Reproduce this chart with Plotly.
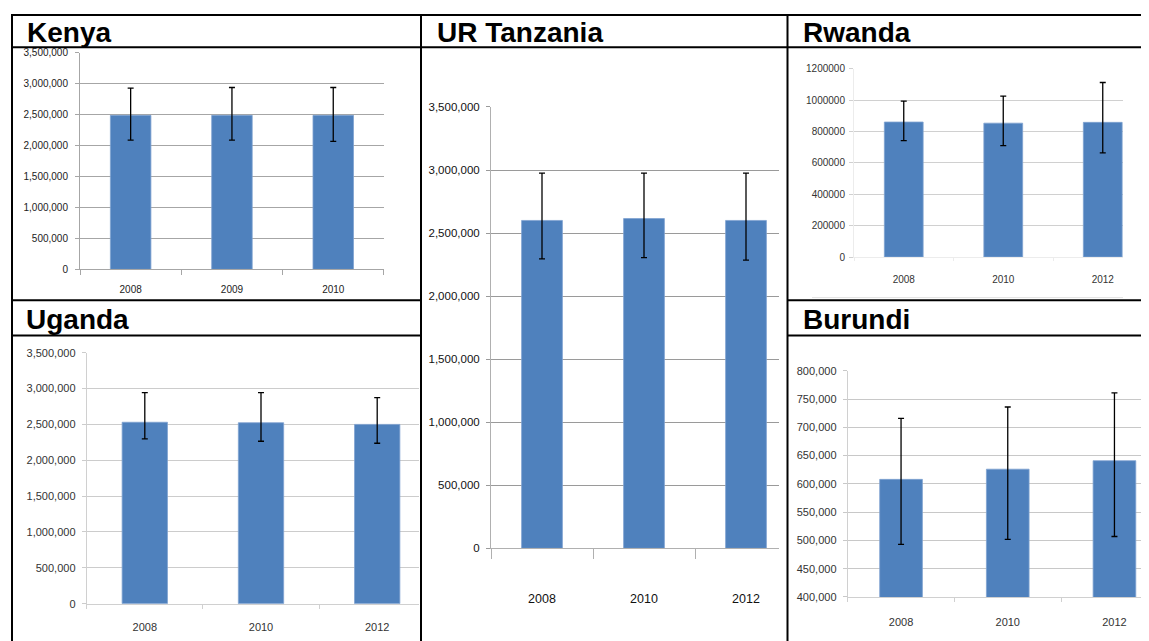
import plotly.graph_objects as go

W, H = 1149, 641

# ---------------- data ----------------
kenya_years = ["2008", "2009", "2010"]
kenya_values = [2490000, 2490000, 2490000]
kenya_upper = [2930000, 2940000, 2940000]
kenya_lower = [2090000, 2090000, 2070000]

tanzania_years = ["2008", "2010", "2012"]
tanzania_values = [2600000, 2615000, 2600000]
tanzania_upper = [2975000, 2975000, 2975000]
tanzania_lower = [2295000, 2305000, 2285000]

rwanda_years = ["2008", "2010", "2012"]
rwanda_values = [860000, 853000, 858000]
rwanda_upper = [993000, 1025000, 1112000]
rwanda_lower = [742000, 710000, 663000]

uganda_years = ["2008", "2010", "2012"]
uganda_values = [2530000, 2523000, 2500000]
uganda_upper = [2944000, 2944000, 2874000]
uganda_lower = [2298000, 2265000, 2237000]

burundi_years = ["2008", "2010", "2012"]
burundi_values = [608000, 626000, 641000]
burundi_upper = [716000, 736000, 761000]
burundi_lower = [493000, 502000, 507000]

titles = ["Kenya", "UR Tanzania", "Rwanda", "Uganda", "Burundi"]

# ------------- screen-pixel -> paper mapping -------------
# the page places the figure at x=8 and stretches it vertically from y=16.4 to y=641
OX, OY, PH = 8.0, 16.4, 624.6


def X(px):
    return (px - OX) / W


def Y(py):
    return 1 - (py - OY) / PH


SANS = "Liberation Sans, Arial, sans-serif"

panels = [
    dict(years=kenya_years, values=kenya_values, upper=kenya_upper, lower=kenya_lower,
         x0=80, x1=384, cw=101.3, ytop=55, ybot=270, yrange=[0, 3500000], dtick=500000,
         fmt=",d", bw=0.40, xfont=dict(family=SANS, size=10, color="#222"),
         yfont=dict(family=SANS, size=10, color="#222"),
         grid="#a6a6a6", xstand=11, ystand=5, xticklen=5, axisline="#a6a6a6"),
    dict(years=tanzania_years, values=tanzania_values, upper=tanzania_upper, lower=tanzania_lower,
         x0=491, x1=779, cw=102.0, ytop=108.7, ybot=547, yrange=[0, 3500000], dtick=500000,
         fmt=",d", bw=0.40, xfont=dict(family=SANS, size=12.5, color="#111"),
         yfont=dict(family=SANS, size=11.5, color="#111"),
         grid="#9a9a9a", xstand=39, ystand=4, xticklen=10, axisline="#b0b0b0"),
    dict(years=rwanda_years, values=rwanda_values, upper=rwanda_upper, lower=rwanda_lower,
         x0=854, x1=1123, cw=99.5, ytop=70.7, ybot=257.7, yrange=[0, 1200000], dtick=200000,
         fmt="d", bw=0.39, xfont=dict(family=SANS, size=10, color="#333"),
         yfont=dict(family=SANS, size=10, color="#333"),
         grid="#d0d0d0", xstand=13, ystand=2, xticklen=3, axisline="#ececec"),
    dict(years=uganda_years, values=uganda_values, upper=uganda_upper, lower=uganda_lower,
         x0=86.7, x1=419, cw=116.2, ytop=352.7, ybot=602, yrange=[0, 3500000], dtick=500000,
         fmt=",d", bw=0.39, xfont=dict(family=SANS, size=11, color="#333"),
         yfont=dict(family=SANS, size=11, color="#333"),
         grid="#cccccc", xstand=13, ystand=4, xticklen=4, axisline="#d0d0d0"),
    dict(years=burundi_years, values=burundi_values, upper=burundi_upper, lower=burundi_lower,
         x0=847.7, x1=1143, cw=106.7, ytop=370.7, ybot=595.3, yrange=[400000, 800000], dtick=50000,
         fmt=",d", bw=0.40, xfont=dict(family=SANS, size=11, color="#333"),
         yfont=dict(family=SANS, size=11, color="#333"),
         grid="#c8c8c8", xstand=15, ystand=4, xticklen=4, axisline="#d0d0d0"),
]

title_pos = [(25, 34.5), (435, 34.5), (801, 34.5), (24, 320), (801, 320)]

fig = go.Figure()
layout = {}
for i, p in enumerate(panels, start=1):
    xa = "x" if i == 1 else f"x{i}"
    ya = "y" if i == 1 else f"y{i}"
    fig.add_trace(go.Bar(
        x=p["years"], y=p["values"], xaxis=xa, yaxis=ya,
        width=p["bw"],
        marker=dict(color="#4F81BD", line=dict(color="#7FA2D0", width=0.8)),
        error_y=dict(type="data", symmetric=False,
                     array=[u - v for u, v in zip(p["upper"], p["values"])],
                     arrayminus=[v - l for v, l in zip(p["values"], p["lower"])],
                     color="black", thickness=1.3, width=3),
        showlegend=False, hoverinfo="skip",
    ))
    xr = [-0.5, -0.5 + (p["x1"] - p["x0"]) / p["cw"]]
    layout["xaxis" if i == 1 else f"xaxis{i}"] = dict(
        domain=[X(p["x0"]), X(p["x1"])], anchor=ya, type="category",
        range=xr, tickson="boundaries", ticks="outside", ticklen=p["xticklen"],
        tickcolor=p["axisline"], showline=True, linecolor=p["axisline"], linewidth=1,
        showgrid=False, tickfont=p["xfont"], ticklabelstandoff=p["xstand"], fixedrange=True,
    )
    layout["yaxis" if i == 1 else f"yaxis{i}"] = dict(
        domain=[Y(p["ybot"]), Y(p["ytop"])], anchor=xa,
        range=p["yrange"], dtick=p["dtick"], tick0=0, tickformat=p["fmt"],
        showgrid=True, gridcolor=p["grid"], gridwidth=1, zeroline=False,
        showline=True, linecolor=p["axisline"], ticks="outside", ticklen=4,
        tickcolor=p["grid"], tickfont=p["yfont"], ticklabelstandoff=p["ystand"],
        fixedrange=True,
    )


# table borders (given in screen pixels)
def hline(y, xa, xb):
    return dict(type="line", xref="paper", yref="paper", x0=X(xa), x1=X(xb),
                y0=Y(y), y1=Y(y), line=dict(color="black", width=2), layer="above")


def vline(x, ya, yb):
    return dict(type="line", xref="paper", yref="paper", x0=X(x), x1=X(x),
                y0=Y(ya), y1=Y(yb), line=dict(color="black", width=2), layer="above")


shapes = [
    hline(17.4, 11, W + OX), hline(49.5, 11, W + OX),
    vline(12, 16.4, H), vline(421, 16.4, H), vline(787.5, 16.4, H),
    hline(300.7, 11, 422), hline(335.7, 11, 422),
    hline(300.7, 787, W + OX), hline(335.7, 787, W + OX),
    dict(type="line", xref="paper", yref="paper", x0=X(812), x1=X(1123),
         y0=Y(298), y1=Y(298), line=dict(color="#e2e2e2", width=1)),
]

annotations = [
    dict(text=t, x=X(xp), y=Y(yp), xref="paper", yref="paper",
         xanchor="left", yanchor="middle", showarrow=False,
         font=dict(family=SANS, size=28, color="black", weight="bold"))
    for t, (xp, yp) in zip(titles, title_pos)
]

fig.update_layout(
    width=W, height=H, margin=dict(l=0, r=0, t=0, b=0),
    paper_bgcolor="white", plot_bgcolor="white",
    shapes=shapes, annotations=annotations, **layout,
)

fig.write_html("out.html")
